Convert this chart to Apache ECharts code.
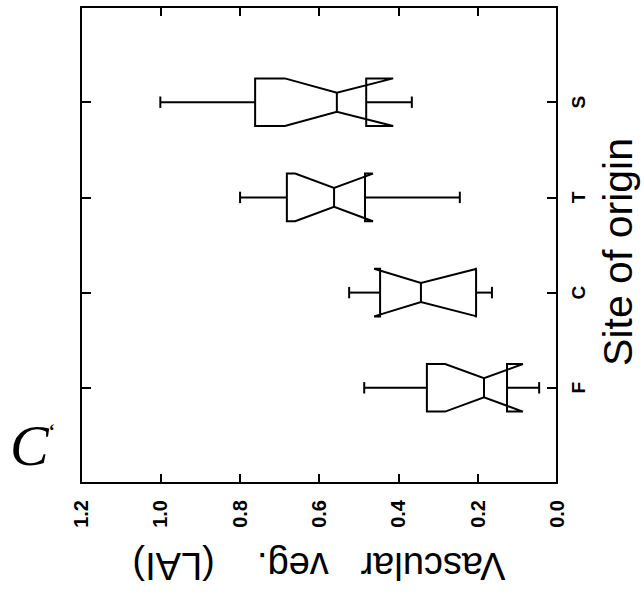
<!DOCTYPE html>
<html><head><meta charset="utf-8">
<script src="https://cdn.jsdelivr.net/npm/echarts@6/dist/echarts.min.js"></script>
<style>html,body{margin:0;padding:0;background:#fff}#c{width:644px;height:594px}</style>
</head><body><div id="c"></div>
<script>
// Data
const categories  = ['F', 'C', 'T', 'S'];
const whiskerLow  = [0.045, 0.164, 0.245, 0.366];
const q1          = [0.126, 0.204, 0.484, 0.481];
const notchLow    = [0.086, 0.202, 0.464, 0.413];
const median      = [0.184, 0.343, 0.562, 0.555];
const notchHigh   = [0.282, 0.461, 0.660, 0.686];
const q3          = [0.328, 0.446, 0.681, 0.761];
const whiskerHigh = [0.486, 0.524, 0.799, 1.000];
const valueTickLabels = ['0.0', '0.2', '0.4', '0.6', '0.8', '1.0', '1.2'];
const xTitle = 'Vascular   veg.    (LAI)';
const yTitle = 'Site of origin';
const panelLetter = 'C';
const panelMark = '\u2018';

const axisCats = [''].concat(categories, ['']);
const boxData = categories.map((c, i) => [i + 1, whiskerLow[i], q1[i], notchLow[i], median[i], notchHigh[i], q3[i], whiskerHigh[i]]);

const BLACK = '#000';
const LW = 2;

function renderItem(params, api) {
  const ci = api.value(0);
  const c0 = api.coord([0, ci]);
  const c1 = api.coord([0, ci + 1]);
  const band = Math.abs(c1[1] - c0[1]);
  const w = band * 0.25, n = band * 0.10, cap = band * 0.06;
  const y = c0[1];
  const X = d => api.coord([api.value(d), ci])[0];
  const wl = X(1), b1 = X(2), nl = X(3), md = X(4), nh = X(5), b3 = X(6), wh = X(7);
  const style = { stroke: BLACK, lineWidth: LW, fill: null };
  const pts = [
    [b3, y - w], [nh, y - w], [md, y - n], [nl, y - w], [b1, y - w],
    [b1, y + w], [nl, y + w], [md, y + n], [nh, y + w], [b3, y + w]
  ];
  return {
    type: 'group',
    children: [
      { type: 'polygon', shape: { points: pts }, style: style },
      { type: 'line', shape: { x1: md, y1: y - n, x2: md, y2: y + n }, style: style },
      { type: 'line', shape: { x1: b3, y1: y, x2: wh, y2: y }, style: style },
      { type: 'line', shape: { x1: wh, y1: y - cap, x2: wh, y2: y + cap }, style: style },
      { type: 'line', shape: { x1: b1, y1: y, x2: wl, y2: y }, style: style },
      { type: 'line', shape: { x1: wl, y1: y - cap, x2: wl, y2: y + cap }, style: style }
    ]
  };
}

const axisLine = { show: true, onZero: false, lineStyle: { color: BLACK, width: LW } };
const tickStyle = { color: BLACK, width: LW };

const chart = echarts.init(document.getElementById('c'), null, { renderer: 'svg' });
chart.setOption({
  backgroundColor: '#fff',
  animation: false,
  grid: { left: 81, right: 87, top: 7, bottom: 111, containLabel: false, outerBoundsMode: 'none' },
  xAxis: [
    {
      type: 'value', min: 0, max: 1.2, interval: 0.2, inverse: true, position: 'bottom',
      axisLine: axisLine,
      axisTick: { show: true, inside: true, length: 9, lineStyle: tickStyle },
      splitLine: { show: false },
      axisLabel: {
        rotate: 90, margin: 17, color: BLACK, fontSize: 20, fontWeight: 'bold',
        fontFamily: "'Liberation Sans Narrow', 'Liberation Sans', Arial, sans-serif",
        showMinLabel: true, showMaxLabel: true,
        formatter: v => valueTickLabels[Math.round(v / 0.2)]
      },
      name: xTitle, nameLocation: 'middle', nameRotate: 180, nameGap: 64,
      nameTextStyle: { color: BLACK, fontSize: 38, fontFamily: "'Liberation Sans', Arial, sans-serif" }
    },
    {
      type: 'value', min: 0, max: 1.2, interval: 0.2, inverse: true, position: 'top',
      axisLine: axisLine,
      axisTick: { show: true, inside: true, length: 9, lineStyle: tickStyle },
      splitLine: { show: false },
      axisLabel: { show: false }
    }
  ],
  yAxis: [
    {
      type: 'category', data: axisCats, boundaryGap: false, position: 'right',
      axisLine: axisLine,
      axisTick: { show: true, inside: true, length: 10, interval: 0, lineStyle: tickStyle },
      axisLabel: {
        interval: 0, rotate: 90, margin: 12, color: BLACK, fontSize: 19, fontWeight: 'bold',
        fontFamily: "'Liberation Sans', Arial, sans-serif"
      },
      splitLine: { show: false },
      name: yTitle, nameLocation: 'middle', nameRotate: 90, nameGap: 40,
      nameTextStyle: { color: BLACK, fontSize: 41, fontFamily: "'Liberation Sans', Arial, sans-serif", padding: [0, 14, 0, 0] }
    },
    {
      type: 'category', data: axisCats, boundaryGap: false, position: 'left',
      axisLine: axisLine,
      axisTick: { show: true, inside: true, length: 10, interval: 0, lineStyle: tickStyle },
      axisLabel: { show: false },
      splitLine: { show: false }
    }
  ],
  graphic: [
    {
      type: 'text', left: 10, top: 416,
      style: {
        text: '{a|' + panelLetter + '}{b|' + panelMark + '}',
        rich: {
          a: { font: "italic 58px 'Liberation Serif', serif", fill: BLACK, verticalAlign: 'top' },
          b: { font: "bold 18px 'Liberation Serif', serif", fill: BLACK, verticalAlign: 'top', padding: [6, 0, 0, 0] }
        }
      }
    }
  ],
  series: [{
    type: 'custom',
    xAxisIndex: 0, yAxisIndex: 0,
    renderItem: renderItem,
    encode: { x: [1, 2, 3, 4, 5, 6, 7], y: 0 },
    data: boxData,
    silent: true
  }]
});
</script></body></html>
